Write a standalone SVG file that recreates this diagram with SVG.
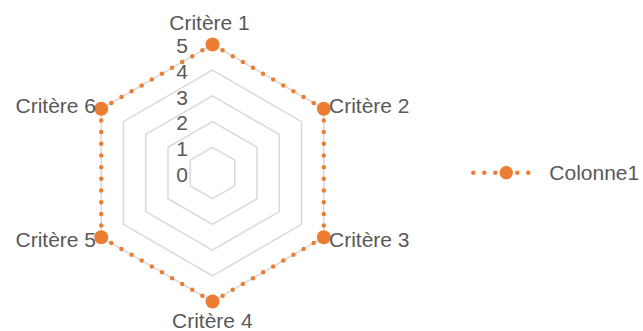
<svg xmlns="http://www.w3.org/2000/svg" width="643" height="331" viewBox="0 0 643 331">
<style>
.bg{fill:#ffffff}
.ring{fill:none;stroke:#d9d9d9;stroke-width:1.5}
.series{fill:none;stroke:#ED7D31;stroke-width:4.5;stroke-linecap:round;stroke-dasharray:0 1}
.mk{fill:#ED7D31}
.lbl{font-family:"Liberation Sans",Arial,sans-serif;font-size:21px;fill:#595959}
.ax{font-family:"Liberation Sans",Arial,sans-serif;font-size:21px;fill:#595959;text-anchor:end}
</style>
<rect class="bg" width="643" height="331"/>
<g id="grid">
<polygon class="ring" points="212.5,147.3 234.76,160.15 234.76,185.85 212.5,198.7 190.24,185.85 190.24,160.15"/>
<polygon class="ring" points="212.5,121.6 257.01,147.3 257.01,198.7 212.5,224.4 167.99,198.7 167.99,147.3"/>
<polygon class="ring" points="212.5,95.9 279.27,134.45 279.27,211.55 212.5,250.1 145.73,211.55 145.73,134.45"/>
<polygon class="ring" points="212.5,70.2 301.53,121.6 301.53,224.4 212.5,275.8 123.47,224.4 123.47,121.6"/>
<polygon class="ring" points="212.5,44.5 323.78,108.75 323.78,237.25 212.5,301.5 101.22,237.25 101.22,108.75"/>
</g>
<g id="axis-labels">
<text class="ax" x="188" y="181.7">0</text>
<text class="ax" x="188" y="156">1</text>
<text class="ax" x="188" y="130.3">2</text>
<text class="ax" x="188" y="104.6">3</text>
<text class="ax" x="188" y="78.9">4</text>
<text class="ax" x="188" y="53.2">5</text>
</g>
<g id="connectors">
<polygon class="series" pathLength="66" points="212.5,44.5 323.78,108.75 323.78,237.25 212.5,301.5 101.22,237.25 101.22,108.75"/>
</g>
<g id="critere-1"><circle class="mk" cx="212.5" cy="44.5" r="7"/><text class="lbl" x="209.5" y="30" text-anchor="middle">Critère 1</text></g>
<g id="critere-2"><circle class="mk" cx="323.78" cy="108.75" r="7"/><text class="lbl" x="329" y="113.3">Critère 2</text></g>
<g id="critere-3"><circle class="mk" cx="323.78" cy="237.25" r="7"/><text class="lbl" x="329" y="246.7">Critère 3</text></g>
<g id="critere-4"><circle class="mk" cx="212.5" cy="301.5" r="7"/><text class="lbl" x="212.3" y="328.3" text-anchor="middle">Critère 4</text></g>
<g id="critere-5"><circle class="mk" cx="101.22" cy="237.25" r="7"/><text class="lbl" x="96" y="246.7" text-anchor="end">Critère 5</text></g>
<g id="critere-6"><circle class="mk" cx="101.22" cy="108.75" r="7"/><text class="lbl" x="96" y="113.3" text-anchor="end">Critère 6</text></g>
<g id="legend">
<line x1="473.3" y1="172.7" x2="539.3" y2="172.7" stroke="#ED7D31" stroke-width="4.5" stroke-linecap="round" stroke-dasharray="0 11"/>
<circle class="mk" cx="506.3" cy="172.7" r="6.7"/>
<text class="lbl" x="549.3" y="179.8">Colonne1</text>
</g>
</svg>
